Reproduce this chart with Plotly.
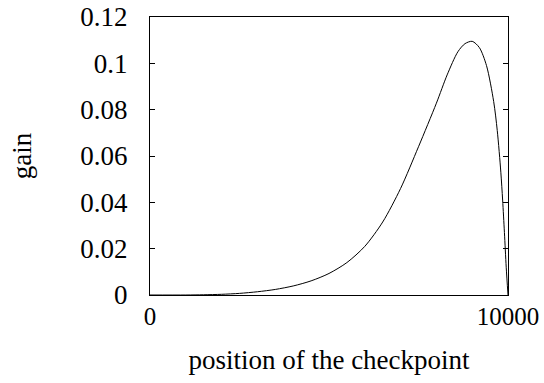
import plotly.graph_objects as go

position = [0, 1000, 1500, 2000, 2500, 3000, 3500, 4000, 4500, 5000, 5500, 6000, 6500, 7000,
            7500, 8000, 8300, 8600, 8800, 9000, 9200, 9400, 9600, 9700, 9800, 9850, 9900,
            9950, 10000]
gain = [0, 0.0000, 0.0001, 0.0003, 0.0007, 0.0014, 0.0024, 0.0039, 0.0061, 0.0093, 0.0140,
        0.0210, 0.0315, 0.0460, 0.0640, 0.0828, 0.0950, 0.1050, 0.1085, 0.1095, 0.1068,
        0.0990, 0.0835, 0.0710, 0.0530, 0.0410, 0.0270, 0.0120, 0]

y_ticks = [0, 0.02, 0.04, 0.06, 0.08, 0.1, 0.12]
y_labels = ["0", "0.02", "0.04", "0.06", "0.08", "0.1", "0.12"]
x_ticks = [0, 10000]
x_labels = ["0", "10000"]

font = dict(family="Liberation Serif", size=27, color="black")
xtick_font = dict(family="Liberation Serif", size=25, color="black")

fig = go.Figure(go.Scatter(x=position, y=gain, mode="lines",
                           line=dict(color="black", width=1, shape="spline", smoothing=0.8),
                           showlegend=False, hoverinfo="skip"))

fig.update_layout(
    width=544, height=383,
    margin=dict(l=150, r=36, t=17, b=88),
    paper_bgcolor="white", plot_bgcolor="white",
    font=font,
)
fig.update_xaxes(range=[0, 10000], tickvals=x_ticks, ticktext=x_labels, tickfont=xtick_font,
                 showline=True, linecolor="black", linewidth=1, mirror="ticks",
                 ticks="inside", ticklen=5, tickcolor="black", showgrid=False, zeroline=False,
                 ticklabelstandoff=-1, automargin=False, ticklabeloverflow="allow",
                 title=dict(text="position of the checkpoint", font=font, standoff=21))
fig.update_yaxes(range=[0, 0.12], tickvals=y_ticks, ticktext=y_labels,
                 showline=True, linecolor="black", linewidth=1, mirror="ticks",
                 ticks="inside", ticklen=5, tickcolor="black", showgrid=False, zeroline=False,
                 ticklabelstandoff=16, automargin=False, ticklabeloverflow="allow",
                 title=dict(text="gain", font=font, standoff=40))

fig.write_html("out.html", config={"displayModeBar": False},
               post_script="document.body.style.margin='0px';")
